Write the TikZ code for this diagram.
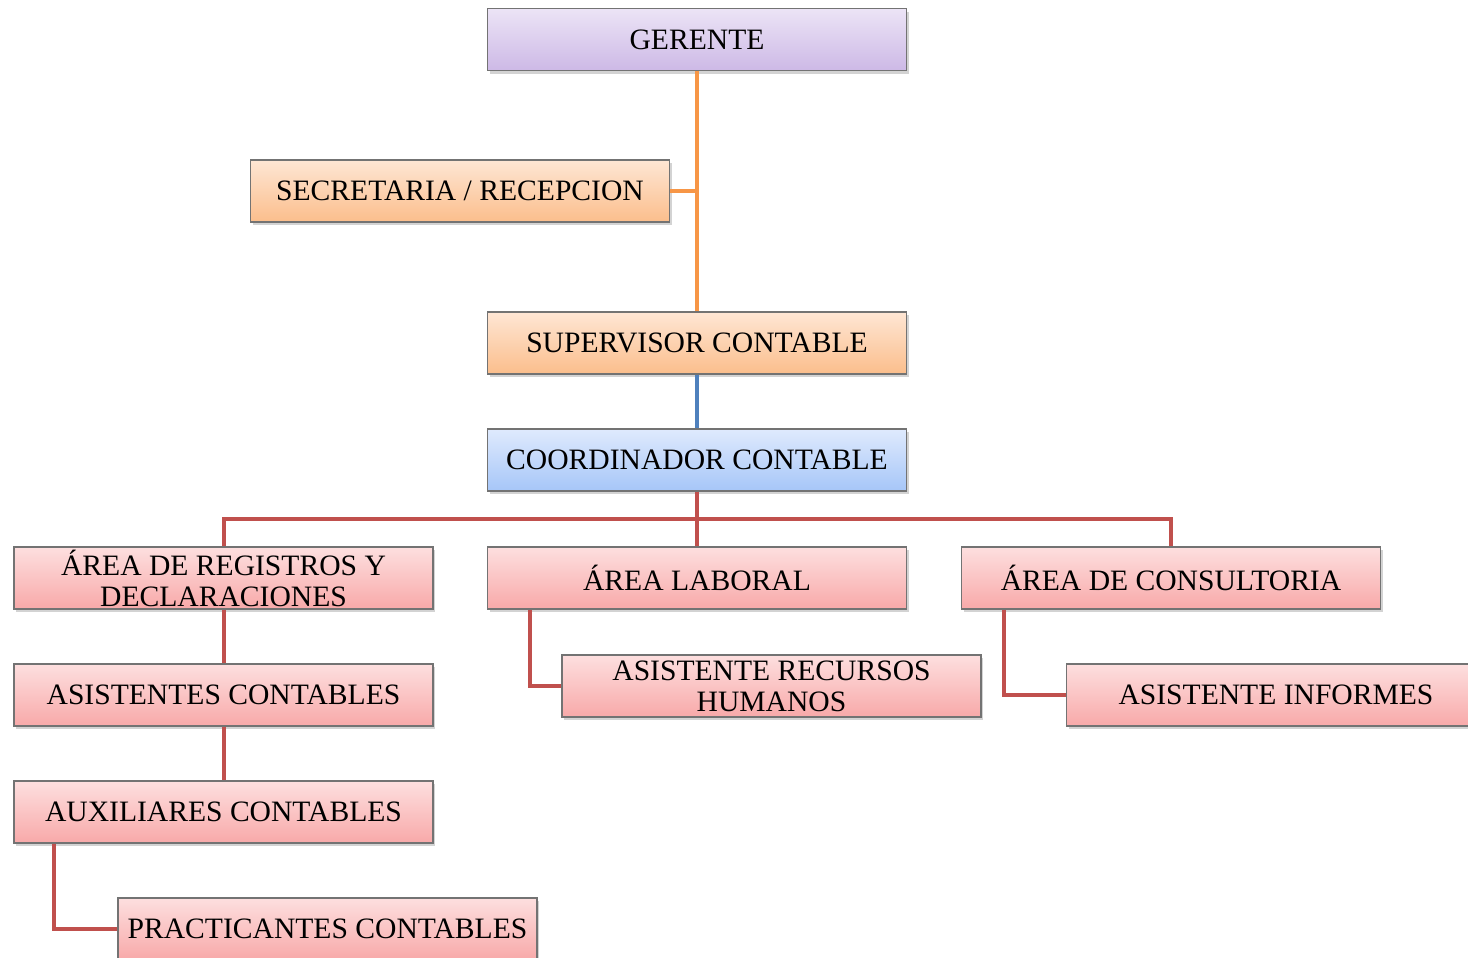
\documentclass[tikz,border=0pt]{standalone}
\usepackage{fontspec}
\setmainfont{Liberation Serif}
\usetikzlibrary{positioning,shadows}

\definecolor{lineorange}{HTML}{F79646}
\definecolor{lineblue}{HTML}{4F81BD}
\definecolor{linered}{HTML}{C0504D}
\definecolor{purpletop}{HTML}{ECE4F6}
\definecolor{purplebot}{HTML}{CDB9E6}
\definecolor{orangetop}{HTML}{FEE6D4}
\definecolor{orangebot}{HTML}{FBBE8C}
\definecolor{bluetop}{HTML}{DFEAFD}
\definecolor{bluebot}{HTML}{A6C6F8}
\definecolor{redtop}{HTML}{FDDFDF}
\definecolor{redbot}{HTML}{F8A9A9}

\tikzset{
    box/.style={draw=black!55, line width=0.6pt, minimum width=209.5pt, minimum height=31pt,
        inner sep=1pt, align=center, font=\fontsize{14.8}{15.5}\selectfont,
        drop shadow={shadow xshift=1.2pt, shadow yshift=-1.5pt, opacity=0.35}},
    purplebox/.style={box, top color=purpletop, bottom color=purplebot},
    orangebox/.style={box, top color=orangetop, bottom color=orangebot},
    bluebox/.style={box, top color=bluetop, bottom color=bluebot},
    redbox/.style={box, top color=redtop, bottom color=redbot},
    link/.style={line width=2pt}
}

\begin{document}
\begin{tikzpicture}[x=0.5pt, y=-0.5pt]
    \useasboundingbox (0,0) rectangle (1468,958);

    % Nodes {gerente, secre, supervisor, coord, areas, asistentes}
    \node [purplebox] (gerente)     at (697,39.5)   {GERENTE};
    \node [orangebox] (secre)       at (460,191)    {SECRETARIA / RECEPCION};
    \node [orangebox] (supervisor)  at (697,343)    {SUPERVISOR CONTABLE};
    \node [bluebox]   (coord)       at (697,460)    {COORDINADOR CONTABLE};
    \node [redbox]    (registros)   at (223.5,578)  {ÁREA DE REGISTROS Y\\DECLARACIONES};
    \node [redbox]    (laboral)     at (697,578)    {ÁREA LABORAL};
    \node [redbox]    (consultoria) at (1171,578)   {ÁREA DE CONSULTORIA};
    \node [redbox]    (rrhh)        at (771.5,686)  {ASISTENTE RECURSOS\\HUMANOS};
    \node [redbox]    (informes)    at (1276,695)   {ASISTENTE INFORMES};
    \node [redbox]    (asistentes)  at (223.5,695)  {ASISTENTES CONTABLES};
    \node [redbox]    (auxiliares)  at (223.5,812)  {AUXILIARES CONTABLES};
    \node [redbox]    (practicantes) at (327.5,929) {PRACTICANTES CONTABLES};

    \coordinate (bus) at (697,519);

    % Paths
    \draw [link, lineorange] (gerente) -- (supervisor);
    \draw [link, lineorange] (secre.east) -- (secre.east -| gerente);
    \draw [link, lineblue]   (supervisor) -- (coord);
    \draw [link, linered]    (coord) -- (laboral);
    \draw [link, linered]    (registros.north) |- (bus) -| (consultoria.north);
    \draw [link, linered]    ([xshift=21.5pt]laboral.south west) |- (rrhh.west);
    \draw [link, linered]    ([xshift=21.5pt]consultoria.south west) |- (informes.west);
    \draw [link, linered]    (registros) -- (asistentes);
    \draw [link, linered]    (asistentes) -- (auxiliares);
    \draw [link, linered]    ([xshift=20.5pt]auxiliares.south west) |- (practicantes.west);

\end{tikzpicture}
\end{document}
